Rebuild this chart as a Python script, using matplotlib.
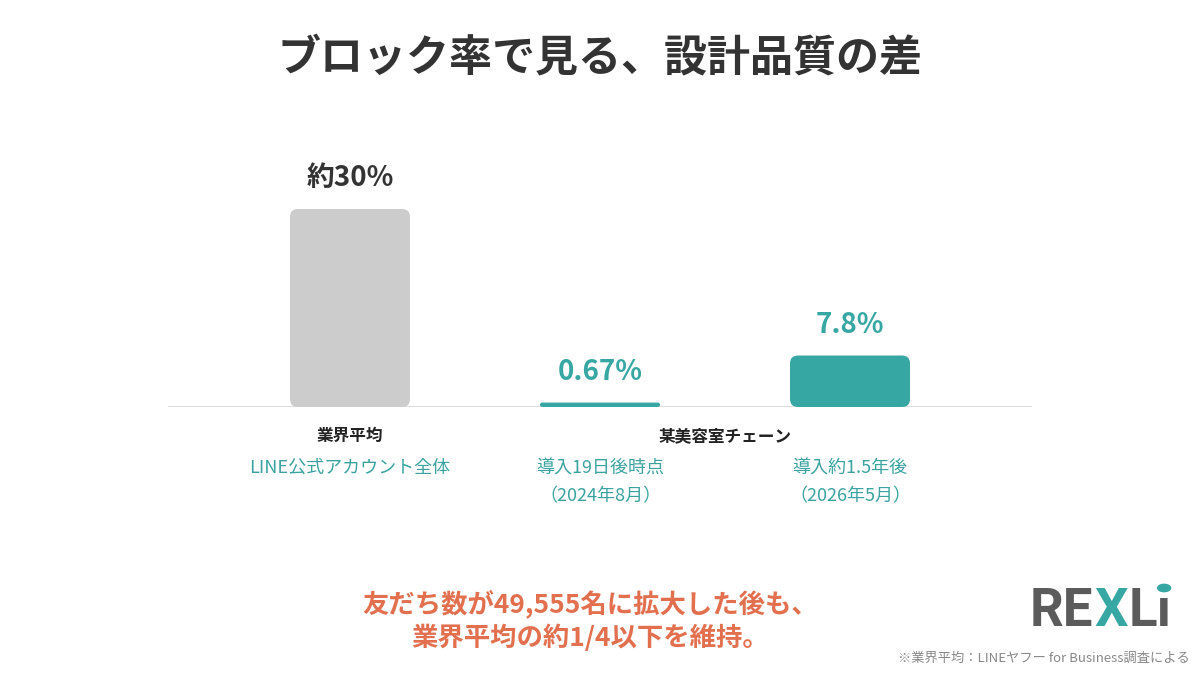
import matplotlib
matplotlib.use('Agg')
import matplotlib.pyplot as plt
from matplotlib.patches import FancyBboxPatch

plt.rcParams['font.family'] = ['Noto Sans CJK JP', 'DejaVu Sans']

# data
values = [30, 0.67, 7.8]
value_labels = ['約30%', '0.67%', '7.8%']
sub_labels = ['LINE公式アカウント全体', '導入19日後時点\n（2024年8月）', '導入約1.5年後\n（2026年5月）']
group_labels = ['業界平均', '某美容室チェーン']
bar_colors = ['#cccccc', '#37a7a3', '#37a7a3']
value_colors = ['#333333', '#37a7a3', '#37a7a3']

W, H = 1200, 675
fig = plt.figure(figsize=(12, 6.75), dpi=100)

# axes placed in pixel terms: baseline y=407, 30% top y=209, x from 168 to 1032
ax = fig.add_axes([168 / W, 1 - 407 / H, 864 / W, 198 / H])
ax.set_xlim(-0.728, 2.728)
ax.set_ylim(0, 30)
ax.axis('off')

width = 0.48
px_x = 250.0          # pixels per x unit
px_y = 198 / 30.0     # pixels per y unit
for i, (v, c) in enumerate(zip(values, bar_colors)):
    r = min(8, v * px_y / 2)  # corner radius in pixels
    p = FancyBboxPatch((i - width / 2, 0), width, v,
                       boxstyle='round,pad=0,rounding_size=%f' % (r / px_x),
                       mutation_aspect=px_x / px_y,
                       fc=c, ec='none', clip_on=False)
    ax.add_patch(p)
    ax.annotate(value_labels[i], xy=(i, v), xytext=(0, 12), textcoords='offset points',
                ha='center', va='bottom', fontsize=20, fontweight='bold',
                color=value_colors[i], annotation_clip=False)

# baseline
ax.axhline(0, color='#dddddd', lw=1.5, zorder=0)

# category labels below
ax.annotate(group_labels[0], xy=(0, 0), xytext=(0, -21), textcoords='offset points',
            ha='center', va='center', fontsize=12, fontweight='bold', color='#222222',
            annotation_clip=False)
ax.annotate(group_labels[1], xy=(1.5, 0), xytext=(0, -21), textcoords='offset points',
            ha='center', va='center', fontsize=12, fontweight='bold', color='#222222',
            annotation_clip=False)
for i, s in enumerate(sub_labels):
    ax.annotate(s, xy=(i, 0), xytext=(0, -37.5), textcoords='offset points',
                ha='center', va='top', fontsize=13, color='#3aa3a0',
                linespacing=1.7, annotation_clip=False)

# title
fig.text(600 / W, 1 - 57 / H, 'ブロック率で見る、設計品質の差', ha='center', va='center',
         fontsize=31, fontweight='bold', color='#333333')

# bottom message
fig.text(590 / W, 1 - 621 / H, '友だち数が49,555名に拡大した後も、\n業界平均の約1/4以下を維持。',
         ha='center', va='center', fontsize=19, fontweight='bold', color='#e2704f',
         linespacing=1.3)

# footnote
fig.text(1190 / W, 1 - 658 / H, '※業界平均：LINEヤフー for Business調査による',
         ha='right', va='center', fontsize=9.5, color='#888888')

# logo: pieces placed one after another
logo_y = 1 - 612 / H
renderer = fig.canvas.get_renderer()
x = 1030
for part, col in [('RE', '#5b5b5b'), ('X', '#37a7a3'), ('Lı', '#5b5b5b')]:
    t = fig.text(x / W, logo_y, part, ha='left', va='center', fontsize=38,
                 fontweight='bold', color=col, family=['Roboto', 'DejaVu Sans'])
    bb = t.get_window_extent(renderer)
    x = bb.x1 + 1
fig.patches.append(plt.Circle(((x - 9) / W, 1 - 588 / H), 6.5 / W, transform=fig.transFigure,
                              color='#37a7a3', figure=fig))

fig.savefig('out.png', dpi=100, facecolor='white')
